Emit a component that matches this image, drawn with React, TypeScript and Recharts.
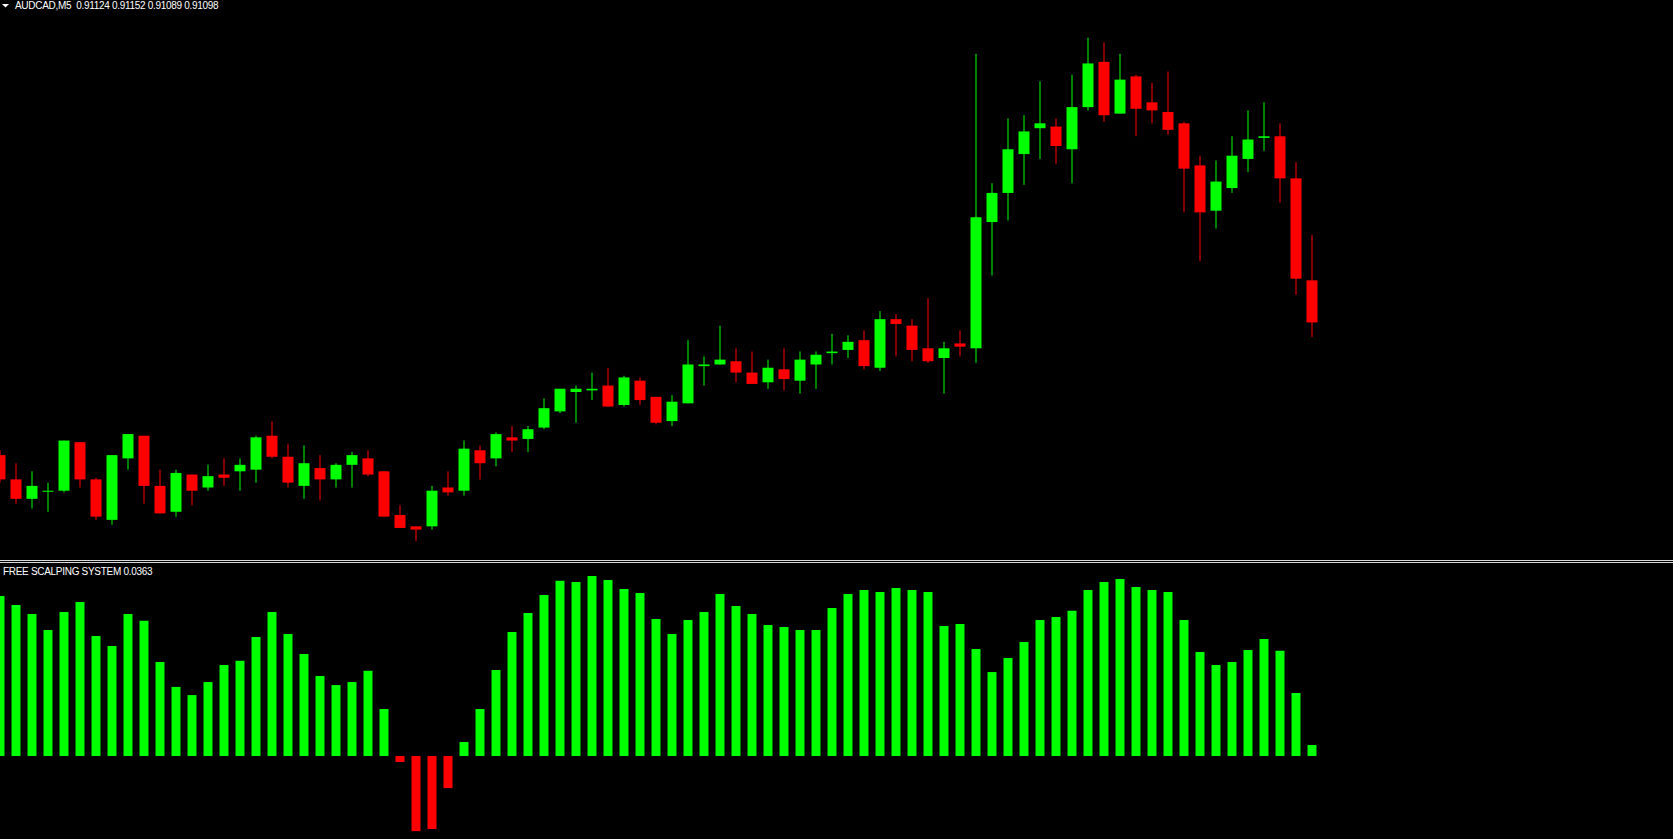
import { Bar, BarChart, Cell, XAxis, YAxis } from "recharts";

// AUDCAD M5 candles, oldest first
const opens = [
  0.91016, 0.91001, 0.90989, 0.90994, 0.90994, 0.91024, 0.91001, 0.90976, 0.91014, 0.91028,
  0.90997, 0.90981, 0.91004, 0.90996, 0.91004, 0.91006, 0.91007, 0.91028, 0.91015, 0.90997,
  0.91008, 0.91001, 0.9101, 0.91014, 0.91006, 0.90979, 0.90972, 0.90972, 0.90996, 0.90994,
  0.91019, 0.91014, 0.91027, 0.91026, 0.91033, 0.91043, 0.91055, 0.91056, 0.91059, 0.91047,
  0.91062, 0.91052, 0.91037, 0.91048, 0.91071, 0.91072, 0.91074, 0.91067, 0.91061, 0.91069,
  0.91062, 0.91072, 0.91079, 0.91081, 0.91087, 0.9107, 0.911, 0.91096, 0.91082, 0.91076,
  0.91085, 0.91082, 0.9116, 0.91178, 0.91202, 0.91218, 0.91219, 0.91205, 0.91231, 0.91259,
  0.91227, 0.9125, 0.91234, 0.91228, 0.91221, 0.91195, 0.91167, 0.91181, 0.91199, 0.91212,
  0.91213, 0.91187, 0.91124,
];
const highs = [
  0.91019, 0.91011, 0.91006, 0.90999, 0.91025, 0.91024, 0.91002, 0.91016, 0.91029, 0.91028,
  0.91007, 0.91007, 0.91004, 0.9101, 0.91014, 0.91014, 0.91028, 0.91037, 0.91023, 0.91022,
  0.91016, 0.91011, 0.91018, 0.91019, 0.91006, 0.90985, 0.90972, 0.90997, 0.91006, 0.91025,
  0.91022, 0.9103, 0.91034, 0.91034, 0.91051, 0.91057, 0.91059, 0.91067, 0.9107, 0.91065,
  0.91064, 0.91052, 0.91053, 0.91087, 0.91077, 0.91096, 0.91082, 0.9108, 0.91075, 0.91082,
  0.9108, 0.9108, 0.91091, 0.9109, 0.91093, 0.91105, 0.91103, 0.911, 0.91113, 0.91086,
  0.91093, 0.91264, 0.91184, 0.91224, 0.91226, 0.91247, 0.91224, 0.91251, 0.91274, 0.91271,
  0.91264, 0.91251, 0.91246, 0.91253, 0.91222, 0.91201, 0.91198, 0.91213, 0.91229, 0.91234,
  0.91221, 0.91197, 0.91152,
];
const lows = [
  0.90999, 0.90986, 0.90983, 0.90981, 0.90993, 0.90996, 0.90976, 0.90973, 0.91007, 0.90986,
  0.9098, 0.90978, 0.90985, 0.90994, 0.90997, 0.90994, 0.90999, 0.91014, 0.90996, 0.90989,
  0.90988, 0.90996, 0.90996, 0.91003, 0.90978, 0.90971, 0.90963, 0.9097, 0.90991, 0.90991,
  0.91001, 0.91009, 0.91018, 0.91018, 0.91032, 0.91042, 0.91036, 0.9105, 0.91046, 0.91046,
  0.91047, 0.91035, 0.91034, 0.91048, 0.91059, 0.91072, 0.91061, 0.9106, 0.91057, 0.91056,
  0.91054, 0.91057, 0.91072, 0.91076, 0.91069, 0.91068, 0.91077, 0.91074, 0.91073, 0.91054,
  0.91077, 0.91073, 0.91127, 0.91161, 0.91183, 0.91199, 0.91196, 0.91184, 0.91229, 0.91222,
  0.91227, 0.91213, 0.91221, 0.91214, 0.91166, 0.91136, 0.91156, 0.91178, 0.91191, 0.91204,
  0.91172, 0.91115, 0.91089,
];
const closes = [
  0.91001, 0.90989, 0.90997, 0.90994, 0.91025, 0.91001, 0.90978, 0.91016, 0.91029, 0.90997,
  0.9098, 0.91005, 0.90994, 0.91003, 0.91002, 0.9101, 0.91027, 0.91015, 0.90999, 0.91011,
  0.91001, 0.9101, 0.91016, 0.91004, 0.90978, 0.90971, 0.9097, 0.90994, 0.90993, 0.9102,
  0.91011, 0.91029, 0.91025, 0.91032, 0.91045, 0.91057, 0.91057, 0.91057, 0.91046, 0.91064,
  0.9105, 0.91036, 0.91049, 0.91072, 0.91072, 0.91075, 0.91067, 0.9106, 0.9107, 0.91063,
  0.91075, 0.91078, 0.9108, 0.91086, 0.91071, 0.911, 0.91097, 0.91081, 0.91074, 0.91082,
  0.91083, 0.91163, 0.91178, 0.91205, 0.91216, 0.91221, 0.91207, 0.91231, 0.91258, 0.91226,
  0.91248, 0.9123, 0.91229, 0.91217, 0.91193, 0.91166, 0.91185, 0.91201, 0.91211, 0.91213,
  0.91187, 0.91125, 0.91098,
];

// FREE SCALPING SYSTEM histogram, one value per candle
const scalping = [
  0.528, 0.498, 0.469, 0.416, 0.475, 0.508, 0.396, 0.363, 0.469, 0.446,
  0.31, 0.228, 0.201, 0.244, 0.3, 0.314, 0.393, 0.475, 0.403, 0.337,
  0.264, 0.234, 0.244, 0.281, 0.155, -0.02, -0.248, -0.241, -0.106, 0.046,
  0.155, 0.284, 0.409, 0.472, 0.531, 0.578, 0.574, 0.594, 0.581, 0.551,
  0.538, 0.452, 0.403, 0.449, 0.475, 0.535, 0.495, 0.469, 0.432, 0.426,
  0.416, 0.416, 0.488, 0.535, 0.548, 0.541, 0.554, 0.548, 0.541, 0.429,
  0.436, 0.353, 0.277, 0.323, 0.376, 0.449, 0.459, 0.479, 0.548, 0.574,
  0.584, 0.558, 0.548, 0.541, 0.449, 0.343, 0.3, 0.31, 0.35, 0.386,
  0.347, 0.208, 0.0363,
];

const SYMBOL = "AUDCAD,M5";
const INDICATOR = "FREE SCALPING SYSTEM";

const GREEN = "#00ff00";
const RED = "#ff0000";
const WIDTH = 1673;
const PRICE_H = 560;
const IND_TOP = 563;
const IND_H = 839 - IND_TOP;
// 83 slots of 16px, first one half cut at the left edge
const MARGIN = { top: 0, right: 353.5, bottom: 0, left: -8.5 };

const candles = opens.map((open, i) => ({
  i,
  open,
  high: highs[i],
  low: lows[i],
  close: closes[i],
  range: [lows[i], highs[i]],
}));
const hist = scalping.map((v, i) => ({ i, v }));
const last = candles[candles.length - 1];

function Candle(props: any) {
  const { x, y, width, height, payload } = props;
  const { open, high, low, close } = payload;
  const k = high > low ? height / (high - low) : 0;
  const top = y + (high - Math.max(open, close)) * k;
  const body = Math.max(1, Math.abs(open - close) * k);
  const color = close >= open ? GREEN : RED;
  const wx = x + Math.floor(width / 2);
  return (
    <g>
      <rect x={wx} y={y} width={1} height={Math.max(1, height)} fill={color} />
      <rect x={x} y={top} width={width} height={body} fill={color} />
    </g>
  );
}

const label: React.CSSProperties = {
  position: "absolute",
  color: "#ffffff",
  fontFamily: "'Liberation Sans', Arial, sans-serif",
  fontSize: 10,
  lineHeight: "12px",
  letterSpacing: -0.3,
  whiteSpace: "pre",
};

export default function App() {
  return (
    <div
      style={{
        position: "absolute",
        left: 0,
        top: 0,
        width: WIDTH,
        height: 839,
        background: "#000000",
        overflow: "hidden",
      }}
    >
      <div style={{ position: "absolute", left: 0, top: 0 }}>
        <BarChart width={WIDTH} height={PRICE_H} data={candles} margin={MARGIN}>
          <XAxis dataKey="i" hide />
          <YAxis hide domain={[0.909512, 0.912972]} allowDataOverflow />
          <Bar dataKey="range" barSize={11} shape={Candle} isAnimationActive={false} />
        </BarChart>
      </div>

      <div style={{ position: "absolute", left: 0, top: 560, width: WIDTH, height: 1, background: "#d8d8d8" }} />
      <div style={{ position: "absolute", left: 0, top: 562, width: WIDTH, height: 1, background: "#d8d8d8" }} />

      <div style={{ position: "absolute", left: 0, top: IND_TOP }}>
        <BarChart width={WIDTH} height={IND_H} data={hist} margin={MARGIN}>
          <XAxis dataKey="i" hide />
          <YAxis hide domain={[-0.2739, 0.6369]} allowDataOverflow />
          <Bar dataKey="v" barSize={9} isAnimationActive={false}>
            {hist.map((d) => (
              <Cell key={d.i} fill={d.v >= 0 ? GREEN : RED} />
            ))}
          </Bar>
        </BarChart>
      </div>

      <svg style={{ position: "absolute", left: 0, top: 0 }} width={12} height={12}>
        <polygon points="2,4 9,4 5.5,7.5" fill="#ffffff" />
      </svg>
      <div style={{ ...label, left: 15, top: 0 }}>
        {`${SYMBOL}  ${last.open.toFixed(5)} ${last.high.toFixed(5)} ${last.low.toFixed(5)} ${last.close.toFixed(5)}`}
      </div>
      <div style={{ ...label, left: 3, top: 566 }}>
        {`${INDICATOR} ${scalping[scalping.length - 1].toFixed(4)}`}
      </div>
    </div>
  );
}
